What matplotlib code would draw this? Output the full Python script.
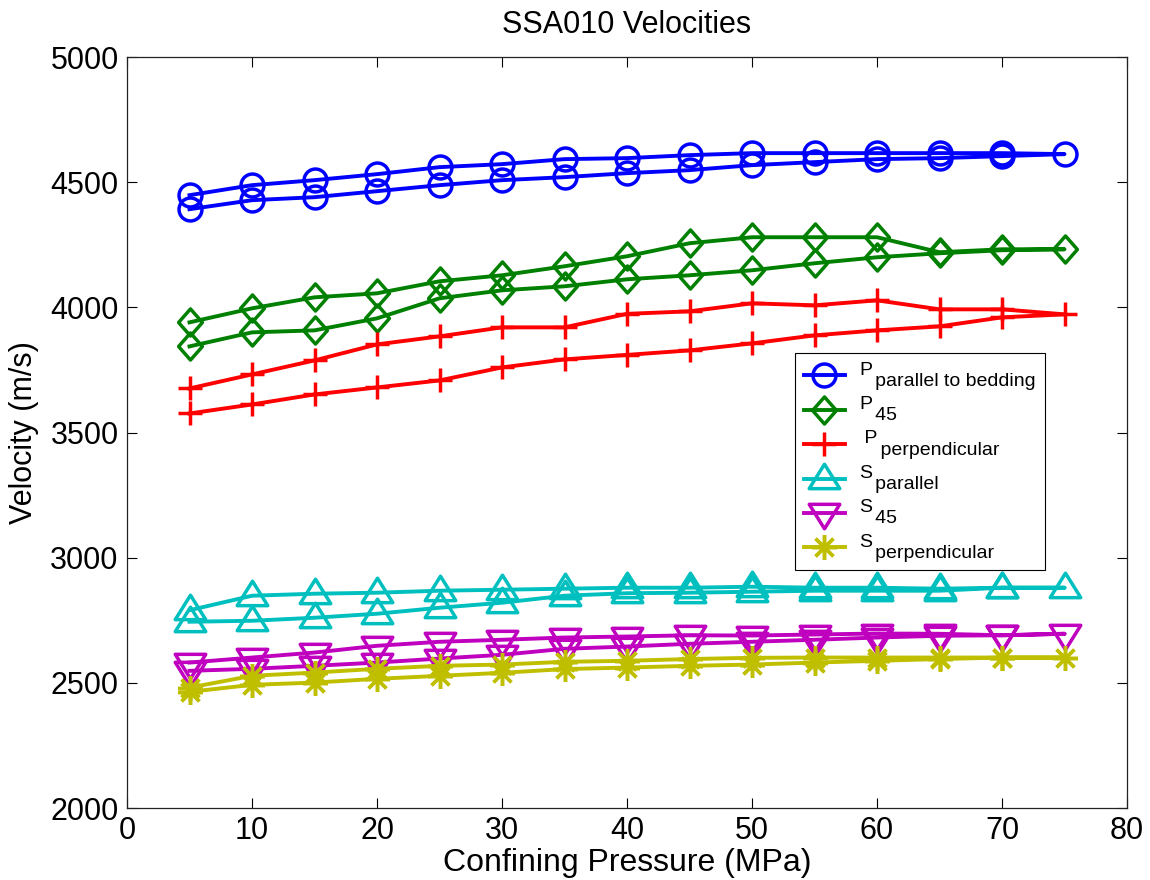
import matplotlib
matplotlib.use("Agg")
import matplotlib.pyplot as plt
from matplotlib.path import Path
import numpy as np

plt.rcParams['font.family'] = ['Liberation Sans', 'DejaVu Sans']

# Confining pressure steps: loading up to 75 MPa, then unloading back to 5 MPa
pressure_up = [5, 10, 15, 20, 25, 30, 35, 40, 45, 50, 55, 60, 65, 70, 75]
pressure_down = [70, 65, 60, 55, 50, 45, 40, 35, 30, 25, 20, 15, 10, 5]

# P-wave, parallel to bedding (m/s)
vp_par_up = [4392, 4428, 4440, 4464, 4488, 4508, 4520, 4536, 4548, 4568, 4580, 4592, 4596, 4604, 4612]
vp_par_down = [4616, 4616, 4616, 4616, 4616, 4608, 4596, 4592, 4572, 4560, 4532, 4508, 4488, 4448]

# P-wave, 45 degrees
vp_45_up = [3844, 3900, 3908, 3956, 4036, 4068, 4084, 4112, 4128, 4148, 4176, 4200, 4216, 4228, 4232]
vp_45_down = [4232, 4220, 4280, 4280, 4280, 4256, 4204, 4164, 4128, 4104, 4056, 4040, 3996, 3940]

# P-wave, perpendicular
vp_perp_up = [3576, 3612, 3652, 3680, 3708, 3760, 3792, 3810, 3828, 3856, 3888, 3908, 3924, 3960, 3972]
vp_perp_down = [3992, 3992, 4028, 4008, 4016, 3984, 3974, 3920, 3920, 3884, 3852, 3788, 3732, 3676]

# S-wave, parallel
vs_par_up = [2744, 2748, 2760, 2776, 2800, 2820, 2848, 2858, 2860, 2864, 2868, 2868, 2868, 2880, 2880]
vs_par_down = [2880, 2876, 2880, 2880, 2884, 2880, 2880, 2876, 2872, 2868, 2860, 2856, 2848, 2790]

# S-wave, 45 degrees
vs_45_up = [2548, 2556, 2568, 2581, 2597, 2612, 2636, 2645, 2656, 2664, 2672, 2681, 2688, 2690, 2696]
vs_45_down = [2690, 2696, 2697, 2693, 2689, 2690, 2685, 2681, 2672, 2664, 2648, 2621, 2601, 2581]

# S-wave, perpendicular
vs_perp_up = [2464, 2492, 2501, 2516, 2528, 2540, 2555, 2561, 2568, 2573, 2581, 2588, 2595, 2601, 2601]
vs_perp_down = [2601, 2601, 2601, 2601, 2600, 2595, 2588, 2584, 2573, 2568, 2556, 2541, 2528, 2481]

# legend labels: main letter on the first line, subscript on a tight second line
labels = [
    "P\n   parallel to bedding",
    "P\n   45",
    " P\n    perpendicular",
    "S\n   parallel",
    "S\n   45",
    "S\n   perpendicular",
]

# marker shapes
diamond = Path([(0, 1), (0.88, 0), (0, -1), (-0.88, 0), (0, 1)], closed=True)
tri_up = Path([(-1, -0.6), (1, -0.6), (0, 1.0), (-1, -0.6)], closed=True)
tri_down = Path([(-1, 0.6), (1, 0.6), (0, -1.0), (-1, 0.6)], closed=True)

series = [
    (vp_par_up, vp_par_down, (0, 0, 1), 'o', 16.5),
    (vp_45_up, vp_45_down, (0, 0.5, 0), diamond, 19.5),
    (vp_perp_up, vp_perp_down, (1, 0, 0), '+', 17),
    (vs_par_up, vs_par_down, (0, 0.75, 0.75), tri_up, 22),
    (vs_45_up, vs_45_down, (0.75, 0, 0.75), tri_down, 22),
    (vs_perp_up, vs_perp_down, (0.75, 0.75, 0), (8, 2, 0), 18),
]

fig = plt.figure(figsize=(11.5, 8.8), dpi=100)
ax = fig.add_axes([127 / 1150, 72 / 880, 1000 / 1150, 751 / 880])

x_all = pressure_up + pressure_down
for (up, down, color, marker, ms), lab in zip(series, labels):
    ax.plot(x_all, list(up) + list(down), color=color, lw=2.8,
            marker=marker, markersize=ms, markerfacecolor='none',
            markeredgecolor=color, markeredgewidth=2.5, label=lab)

ax.set_xlim(0, 80)
ax.set_ylim(2000, 5000)
ax.set_xticks(np.arange(0, 81, 10))
ax.set_yticks(np.arange(2000, 5001, 500))
ax.tick_params(direction='in', length=7, width=0.8, top=True, right=True,
               labelsize=22, pad=6)
for sp in ax.spines.values():
    sp.set_linewidth(0.9)
    sp.set_color('#222222')

ax.set_title("SSA010 Velocities", fontsize=22, pad=17)
ax.set_xlabel("Confining Pressure (MPa)", fontsize=23, labelpad=1)
ax.set_ylabel("Velocity (m/s)", fontsize=22, labelpad=8)

leg = ax.legend(loc='upper left', bbox_to_anchor=(0.668, 0.606),
                borderaxespad=0, fontsize=14, fancybox=False, framealpha=1,
                edgecolor='black', handlelength=2.1, handletextpad=0.75,
                labelspacing=0.32, borderpad=0.45)
leg.get_frame().set_linewidth(0.8)
for t in leg.get_texts():
    t.set_linespacing(0.55)

fig.savefig("out.png", dpi=100, facecolor='white')
